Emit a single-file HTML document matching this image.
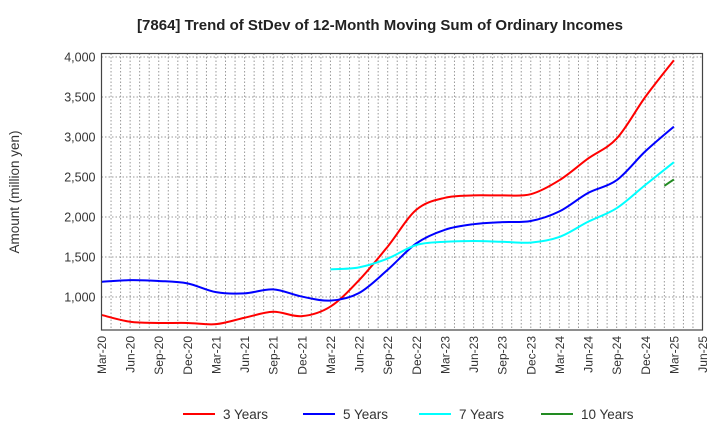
<!DOCTYPE html>
<html><head><meta charset="utf-8"><style>
body{margin:0;background:#fff;font-family:"Liberation Sans",sans-serif;}
svg text{font-family:"Liberation Sans",sans-serif;fill:#333;}
</style></head><body>
<svg id="chart" width="720" height="440">
<text x="380" y="30" text-anchor="middle" font-size="15" font-weight="bold" style="fill:#222">[7864]  Trend of StDev of 12-Month Moving Sum of Ordinary Incomes</text>
<text transform="translate(19,192) rotate(-90)" text-anchor="middle" font-size="13.5">Amount (million yen)</text>
<g id="grid"></g><g id="series"></g><g id="axes"></g>
<g id="legend"></g>
</svg>
<script>
const xLabels=["Mar-20","Jun-20","Sep-20","Dec-20","Mar-21","Jun-21","Sep-21","Dec-21","Mar-22","Jun-22","Sep-22","Dec-22","Mar-23","Jun-23","Sep-23","Dec-23","Mar-24","Jun-24","Sep-24","Dec-24","Mar-25","Jun-25"];
const yTicks=[1000,1500,2000,2500,3000,3500,4000];
const yTickLabels=["1,000","1,500","2,000","2,500","3,000","3,500","4,000"];
const seriesNames=["3 Years","5 Years","7 Years","10 Years"];
const seriesColors=["#ff0000","#0000ff","#00ffff","#228b22"];
const quarters3=[0,1,2,3,4,5,6,7,8,9,10,11,12,13,14,15,16,17,18,19,20];
const vals3=[775,690,675,675,660,740,815,760,880,1210,1630,2090,2240,2270,2270,2285,2460,2730,2980,3500,3960];
const quarters5=[0,1,2,3,4,5,6,7,8,9,10,11,12,13,14,15,16,17,18,19,20];
const vals5=[1190,1210,1200,1170,1060,1045,1095,1005,955,1050,1340,1670,1840,1910,1935,1950,2070,2300,2460,2820,3130];
const quarters7=[8,9,10,11,12,13,14,15,16,17,18,19,20];
const vals7=[1345,1370,1480,1650,1690,1700,1690,1680,1750,1940,2110,2400,2685];
const quarters10=[19.67,20];
const vals10=[2390,2470];
const L=101.5,R=702.5,T=53.5,B=330,yMin=587,yMax=4044,nQ=21;
const X=q=>L+(R-L)*q/nQ;
const Y=v=>B-(B-T)*(v-yMin)/(yMax-yMin);
const NS="http://www.w3.org/2000/svg";
function mk(tag,attrs,parent){const e=document.createElementNS(NS,tag);for(const k in attrs)e.setAttribute(k,attrs[k]);parent.appendChild(e);return e;}
const grid=document.getElementById('grid'),axes=document.getElementById('axes'),ser=document.getElementById('series'),leg=document.getElementById('legend');
for(let m=1;m<63;m++){const x=L+(R-L)*m/63;const g=mk('line',{x1:x,x2:x,y1:T,y2:B,stroke:'#999','stroke-width':1,'stroke-dasharray':'1.5,2'},grid);

}
yTicks.forEach((v,i)=>{const y=Y(v);const g=mk('line',{x1:L,x2:R,y1:y,y2:y,stroke:'#999','stroke-width':1,'stroke-dasharray':'1.5,2'},grid);


const t=mk('text',{x:L-6,y:y+4.5,'text-anchor':'end','font-size':12.5},axes);t.textContent=yTickLabels[i];

});
xLabels.forEach((s,i)=>{const x=X(i);const t=mk('text',{transform:`translate(${x+4.5},${B+6}) rotate(-90)`,'text-anchor':'end','font-size':12},axes);t.textContent=s;

});
const frame=mk('rect',{x:L,y:T,width:R-L,height:B-T,fill:'none',stroke:'#444','stroke-width':1.2},axes);


function path(qs,vs){const p=qs.map((q,i)=>[X(q),Y(vs[i])]);let d=`M${p[0][0]},${p[0][1]}`;
for(let i=0;i<p.length-1;i++){const p0=p[Math.max(i-1,0)],p1=p[i],p2=p[i+1],p3=p[Math.min(i+2,p.length-1)];
d+=` C${p1[0]+(p2[0]-p0[0])/6},${p1[1]+(p2[1]-p0[1])/6} ${p2[0]-(p3[0]-p1[0])/6},${p2[1]-(p3[1]-p1[1])/6} ${p2[0]},${p2[1]}`;}return d;}
const allQ=[quarters3,quarters5,quarters7,quarters10],allV=[vals3,vals5,vals7,vals10];
const names=["line-3-years","line-5-years","line-7-years","line-10-years"];
allQ.forEach((q,i)=>{const e=mk('path',{d:path(q,allV[i]),fill:'none',stroke:seriesColors[i],'stroke-width':2},ser);

});
const lx=[183,303,419,541];
seriesNames.forEach((s,i)=>{const g=mk('g',{},leg);


mk('line',{x1:lx[i],x2:lx[i]+32,y1:414,y2:414,stroke:seriesColors[i],'stroke-width':2},g);
const t=mk('text',{x:lx[i]+40,y:419,'font-size':13.5},g);t.textContent=s;});
</script>
</body></html>
